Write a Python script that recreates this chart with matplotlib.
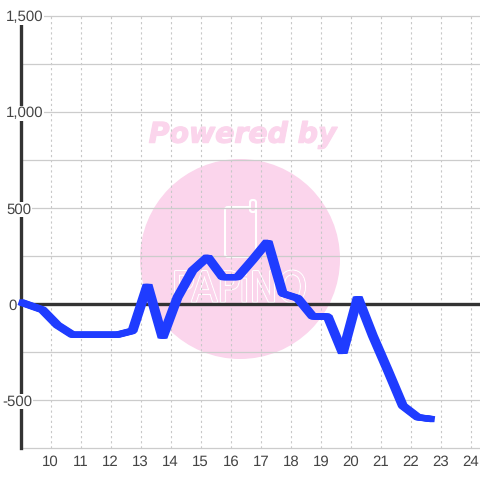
import matplotlib
matplotlib.use("Agg")
import matplotlib.pyplot as plt
from matplotlib.patches import Circle, FancyBboxPatch
import matplotlib.patheffects as pe

hours = [9.0, 9.73, 10.23, 10.73, 11.23, 11.73, 12.23, 12.73, 13.23, 13.73, 14.23, 14.73, 15.23, 15.73,
         16.23, 16.73, 17.23, 17.73, 18.23, 18.73, 19.23, 19.73, 20.23, 20.73, 21.23, 21.73, 22.23, 22.73]
values = [10, -30, -110, -160, -160, -160, -160, -140, 100, -175, 35, 175, 245, 140,
          140, 230, 325, 55, 30, -65, -65, -255, 35, -165, -345, -530, -590, -600]
x_ticks = list(range(10, 25))
y_ticks = [-500, 0, 500, 1000, 1500]
y_labels = ["-500", "0", "500", "1,000", "1,500"]
y_label_px = [2, 8, 6, 6, 6]
y_minor = [-750, -250, 250, 750, 1250]

W = 480
plt.rcParams["font.family"] = ["Liberation Sans", "DejaVu Sans"]
plt.rcParams["text.hinting"] = "no_hinting"
plt.rcParams["text.hinting_factor"] = 1
fig = plt.figure(figsize=(4.8, 4.8), dpi=100)
ax = fig.add_axes([20.5 / W, 1 - 448 / W, (W - 20.5) / W, (448 - 16) / W])
ax.set_xlim(9, 24.3)
ax.set_ylim(-750, 1500)
for s in ["top", "right", "bottom"]:
    ax.spines[s].set_visible(False)
ax.spines["left"].set_linewidth(2.4)
ax.spines["left"].set_color("#333333")
ax.spines["left"].set_zorder(1.5)
ax.tick_params(length=0)
ax.set_yticks(y_ticks + y_minor)
ax.set_yticklabels([])
ax.set_xticks(x_ticks)
ax.set_xticklabels([str(v) for v in x_ticks], fontsize=11, color="#444444")
ax.tick_params(axis="x", pad=5)
ax.grid(axis="y", color="#cccccc", lw=0.9, zorder=1, clip_on=False)
ax.grid(axis="x", color="#c8c8c8", lw=0.8, ls=(0, (2, 2.6)), zorder=1)
ax.set_axisbelow(True)

# watermark, in figure pixel coordinates
PINK = "#fbd5ec"
def P(x, y):
    return x / W, 1 - y / W
fig.patches.append(Circle(P(240, 259), 100 / W, transform=fig.transFigure, fc=PINK, ec="none", zorder=-5))
fig.text(*P(241.5, 135), "Powered by", fontsize=20.4, family="DejaVu Sans", weight="bold", style="italic",
         color=PINK, ha="center", va="center", zorder=-5,
         path_effects=[pe.withStroke(linewidth=0.9, foreground=PINK)])
fig.patches.append(FancyBboxPatch(P(225, 257), 31 / W, 50 / W, boxstyle="round,pad=0,rounding_size=0.006",
                                  transform=fig.transFigure, fc="none", ec="white", lw=1.5, zorder=-4))
fig.patches.append(FancyBboxPatch(P(250, 212), 6 / W, 12 / W, boxstyle="round,pad=0,rounding_size=0.005",
                                  transform=fig.transFigure, fc=PINK, ec="white", lw=1.5, zorder=-4))
fig.text(*P(239.5, 290), "PAPiNO", fontsize=30, family="DejaVu Sans", stretch="condensed", color=PINK,
         ha="center", va="center", zorder=-4,
         path_effects=[pe.withStroke(linewidth=1.7, foreground="white"), pe.Normal()])
ax.patch.set_alpha(0)
fig.patch.set_facecolor("white")

ax.axhline(0, color="#333333", lw=2.4, zorder=2)
# pen is wider horizontally than vertically in the reference
BLUE = "#1f3cff"
line, = ax.plot(hours, values, color=BLUE, lw=4.4, solid_joinstyle="bevel", solid_capstyle="butt",
                zorder=3, clip_on=False)
line.set_path_effects([pe.Stroke(offset=(dx, 0)) for dx in (-1.4, -0.7, 0, 0.7, 1.4)])

for v, lab, xp in zip(y_ticks, y_labels, y_label_px):
    yp = ax.transData.transform((9, v))[1]
    fig.text(xp / W, yp / W, lab, fontsize=11, color="#444444", ha="left", va="center_baseline", zorder=5,
             bbox=dict(fc="white", ec="none", pad=0.6))
fig.savefig("out.png", dpi=100)
